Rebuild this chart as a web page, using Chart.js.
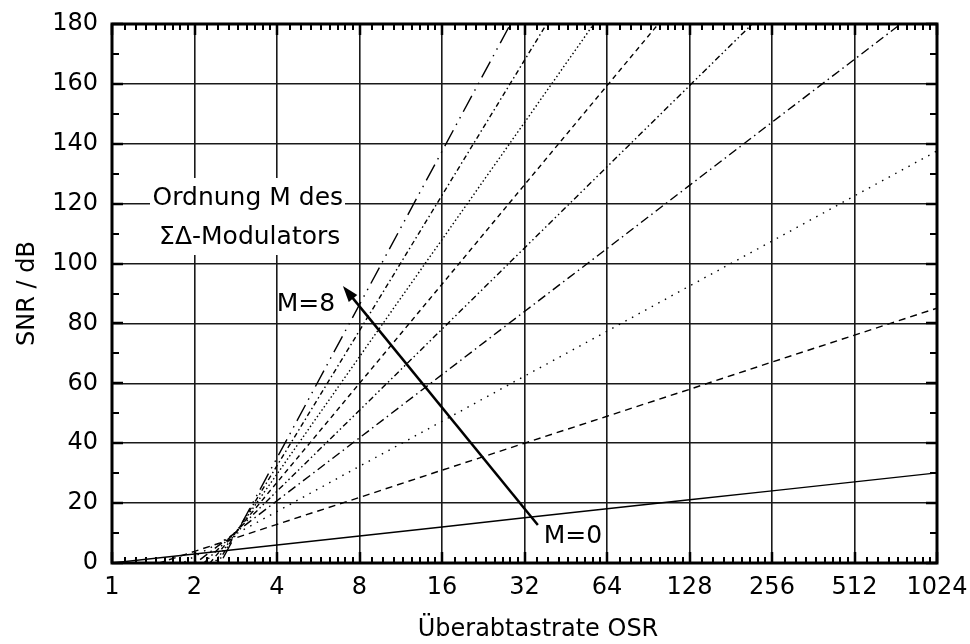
<!DOCTYPE html>
<html>
<head>
<meta charset="utf-8">
<script src="https://cdn.jsdelivr.net/npm/chart.js@4.4.1/dist/chart.umd.min.js"></script>
<style>
  body { margin: 0; background: #fff; }
</style>
</head>
<body>
<canvas id="snrChart" width="970" height="644"></canvas>
<script>
// Oversampling ratio (x axis, octave steps) and the tick labels
const osrValues = [1, 2, 4, 8, 16, 32, 64, 128, 256, 512, 1024];
const osrTickLabels = ['1', '2', '4', '8', '16', '32', '64', '128', '256', '512', '1024'];
const snrTicks = [0, 20, 40, 60, 80, 100, 120, 140, 160, 180];

// SNR in dB at the octave points, order M = 0 ... 8
const snrM0 = [0, 3.0, 6.0, 9.0, 12.0, 15.1, 18.1, 21.1, 24.1, 27.1, 30.1];
const snrM1 = [-5.2, 3.9, 12.9, 21.9, 31.0, 40.0, 49.0, 58.0, 67.1, 76.1, 85.1];
const snrM2 = [-12.9, 2.2, 17.2, 32.3, 47.3, 62.4, 77.4, 92.5, 107.5, 122.6, 137.6];
const snrM3 = [-21.4, -0.3, 20.8, 41.8, 62.9, 84.0, 105.0, 126.1, 147.2, 168.2, 189.3];
const snrM4 = [-30.2, -3.1, 24.0, 51.0, 78.1, 105.2, 132.3, 159.4, 186.5];
const snrM5 = [-39.3, -6.2, 26.9, 60.0, 93.1, 126.3, 159.4, 192.5];
const snrM6 = [-48.5, -9.4, 29.7, 68.9, 108.0, 147.1, 186.3];
const snrM7 = [-57.8, -12.7, 32.5, 77.6, 122.8, 167.9, 213.1];
const snrM8 = [-67.2, -16.1, 35.1, 86.3, 137.5, 188.7];

const FONT = '"DejaVu Sans", sans-serif';

// turn a series into {x, y} points on the osr grid
function toPoints(series) {
  return series.map((v, i) => ({ x: osrValues[i], y: v }));
}

function curve(label, series, dash) {
  return {
    label: label,
    data: toPoints(series),
    borderColor: '#000',
    borderWidth: 1.4,
    borderDash: dash,
    pointRadius: 0,
    fill: false,
    tension: 0,
    clip: 0
  };
}

// Frame, inward tick marks and axis titles
const framePlugin = {
  id: 'framePlugin',
  afterDraw(chart) {
    const { ctx, chartArea: a, scales: { x, y } } = chart;
    ctx.save();
    ctx.strokeStyle = '#000';
    const seg = (x1, y1, x2, y2) => {
      ctx.beginPath(); ctx.moveTo(x1, y1); ctx.lineTo(x2, y2); ctx.stroke();
    };
    // minor x ticks (8 per octave)
    ctx.lineWidth = 2;
    for (let i = 0; i < osrValues.length - 1; i++) {
      for (let j = 1; j <= 8; j++) {
        const px = Math.round(x.getPixelForValue(osrValues[i] * (1 + j / 9)));
        seg(px, a.top, px, a.top + 6);
        seg(px, a.bottom, px, a.bottom - 6);
      }
    }
    // major x ticks
    ctx.lineWidth = 2.5;
    osrValues.forEach(v => {
      const px = Math.round(x.getPixelForValue(v));
      seg(px, a.top, px, a.top + 11);
      seg(px, a.bottom, px, a.bottom - 11);
    });
    // y ticks, minor every 10 and major every 20
    for (let v = 10; v < 180; v += 20) {
      const py = Math.round(y.getPixelForValue(v));
      ctx.lineWidth = 2;
      seg(a.left, py, a.left + 7, py);
      seg(a.right, py, a.right - 7, py);
    }
    snrTicks.forEach(v => {
      const py = Math.round(y.getPixelForValue(v));
      ctx.lineWidth = 2.5;
      seg(a.left, py, a.left + 11, py);
      seg(a.right, py, a.right - 11, py);
    });
    // frame
    ctx.lineWidth = 3;
    ctx.strokeRect(a.left, a.top, a.right - a.left, a.bottom - a.top);

    // axis titles
    ctx.fillStyle = '#000';
    ctx.font = '24px ' + FONT;
    ctx.textAlign = 'center';
    ctx.textBaseline = 'middle';
    ctx.fillText('Überabtastrate OSR', 538, 630);
    ctx.translate(28, (a.top + a.bottom) / 2);
    ctx.rotate(-Math.PI / 2);
    ctx.fillText('SNR / dB', 0, 0);
    ctx.restore();
  }
};

// Text notes and the arrow from M=0 to M=8
const notesPlugin = {
  id: 'notesPlugin',
  afterDatasetsDraw(chart) {
    const { ctx, scales: { x, y } } = chart;
    ctx.save();
    // white box behind the caption
    ctx.fillStyle = '#fff';
    ctx.fillRect(150, 178, 195, 77);

    ctx.fillStyle = '#000';
    ctx.font = '25px ' + FONT;
    ctx.textAlign = 'center';
    ctx.textBaseline = 'middle';
    ctx.fillText('Ordnung M des', x.getPixelForValue(3.13), y.getPixelForValue(121.7));
    ctx.fillText('ΣΔ-Modulators', x.getPixelForValue(3.18), y.getPixelForValue(108.7));
    ctx.fillText('M=8', x.getPixelForValue(5.1), y.getPixelForValue(86.3));
    ctx.fillText('M=0', x.getPixelForValue(48.1), y.getPixelForValue(8.7));

    // arrow
    const x0 = x.getPixelForValue(35.8), y0 = y.getPixelForValue(12.7);
    const x1 = x.getPixelForValue(6.96), y1 = y.getPixelForValue(92.5);
    const ang = Math.atan2(y1 - y0, x1 - x0);
    const head = 16, half = 5.5;
    ctx.strokeStyle = '#000';
    ctx.lineWidth = 2.5;
    ctx.beginPath();
    ctx.moveTo(x0, y0);
    ctx.lineTo(x1 - Math.cos(ang) * (head - 2), y1 - Math.sin(ang) * (head - 2));
    ctx.stroke();
    ctx.beginPath();
    ctx.moveTo(x1, y1);
    ctx.lineTo(x1 - Math.cos(ang) * head - Math.sin(ang) * half, y1 - Math.sin(ang) * head + Math.cos(ang) * half);
    ctx.lineTo(x1 - Math.cos(ang) * head + Math.sin(ang) * half, y1 - Math.sin(ang) * head - Math.cos(ang) * half);
    ctx.closePath();
    ctx.fill();
    ctx.restore();
  }
};

const ctx = document.getElementById('snrChart').getContext('2d');
new Chart(ctx, {
  type: 'line',
  data: {
    datasets: [
      curve('M=0', snrM0, []),
      curve('M=1', snrM1, [7, 5]),
      curve('M=2', snrM2, [1.5, 6]),
      curve('M=3', snrM3, [9, 4, 1.5, 4]),
      curve('M=4', snrM4, [6, 3, 1.5, 3, 1.5, 3]),
      curve('M=5', snrM5, [5, 4]),
      curve('M=6', snrM6, [1.5, 2.5]),
      curve('M=7', snrM7, [5, 3, 1.5, 3]),
      curve('M=8', snrM8, [18, 6, 1.5, 6, 1.5, 6])
    ]
  },
  options: {
    responsive: false,
    animation: false,
    layout: { padding: { left: 0, right: 33, top: 24, bottom: 0 } },
    plugins: {
      legend: { display: false },
      tooltip: { enabled: false }
    },
    scales: {
      x: {
        type: 'logarithmic',
        min: 1,
        max: 1024,
        afterBuildTicks: scale => {
          scale.ticks = osrValues.map(v => ({ value: v }));
        },
        afterFit: scale => {
          scale.height = 81;
          scale.paddingLeft = 0;
          scale.paddingRight = 0;
        },
        border: { display: false },
        grid: { color: '#1a1a1a', lineWidth: 1.6, drawTicks: false },
        ticks: {
          autoSkip: false,
          maxRotation: 0,
          padding: 10,
          color: '#000',
          font: { family: FONT, size: 24 },
          callback: (value) => {
            const i = osrValues.indexOf(value);
            return i >= 0 ? osrTickLabels[i] : '';
          }
        }
      },
      y: {
        min: 0,
        max: 180,
        afterBuildTicks: scale => {
          scale.ticks = snrTicks.map(v => ({ value: v }));
        },
        afterFit: scale => {
          scale.width = 112;
          scale.paddingTop = 0;
          scale.paddingBottom = 0;
        },
        border: { display: false },
        grid: { color: '#1a1a1a', lineWidth: 1.6, drawTicks: false },
        ticks: {
          padding: 14,
          color: '#000',
          font: { family: FONT, size: 24 }
        }
      }
    }
  },
  plugins: [notesPlugin, framePlugin]
});
</script>
</body>
</html>
